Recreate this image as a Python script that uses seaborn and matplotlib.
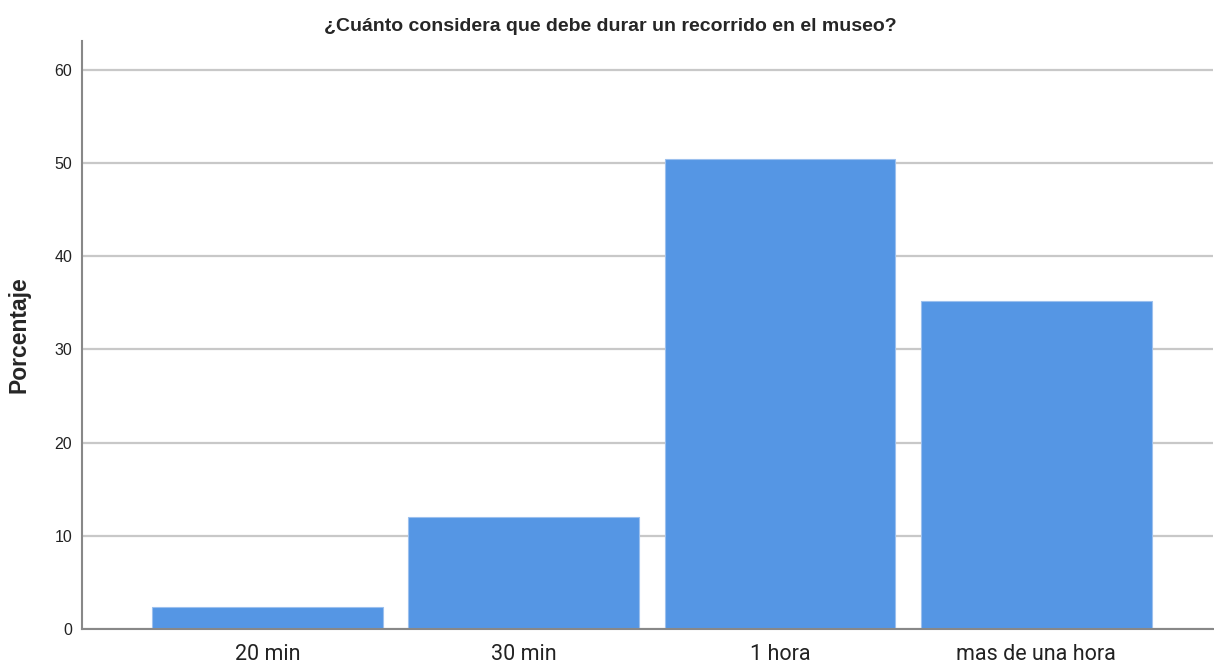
import pandas as pd
import numpy as np
import seaborn as sns
import matplotlib.pyplot as plt

# datos del grafico
categorias = ["20 min", "30 min", "1 hora", "mas de una hora"]
porcentajes = [2.4, 12.0, 50.4, 35.2]
yticks = [0, 10, 20, 30, 40, 50, 60]

df = pd.DataFrame({"categoria": categorias, "porcentaje": porcentajes})

sns.set_style("white")
plt.rcParams['font.family'] = ['Liberation Sans', 'DejaVu Sans']

fig = plt.figure(figsize=(12.14, 6.63), dpi=100)
ax = fig.add_axes([0.0675, 0.0513, 0.9318, 0.887])

ax.set_axisbelow(True)
ax.grid(axis="y", color="#c8c8c8", linewidth=1.6)
sns.barplot(data=df, x="categoria", y="porcentaje", color="#5596e4",
            saturation=1, width=0.9, edgecolor="#9cc0ee", linewidth=0.8, ax=ax)

ax.set_ylim(0, 63.1)
ax.set_xlim(-0.723, 3.69)
ax.set_yticks(yticks)
ax.set_yticklabels([str(t) for t in yticks], fontsize=11.5, color="#222222")
ax.set_xticks(range(len(categorias)))
ax.set_xticklabels(categorias, fontsize=15.5, family=["Roboto", "DejaVu Sans"], color="#222222")
ax.tick_params(axis="x", length=0, pad=11)
ax.tick_params(axis="y", length=0, pad=7)

ax.set_xlabel("")
ax.set_ylabel("Porcentaje", fontsize=16.5, fontweight="bold", labelpad=17)
ax.set_title("¿Cuánto considera que debe durar un recorrido en el museo?",
             fontsize=14, fontweight="bold", pad=7, x=0.467)

sns.despine(ax=ax)
for s in ["left", "bottom"]:
    ax.spines[s].set_color("#888888")
    ax.spines[s].set_linewidth(1.5)

plt.savefig("out.png", dpi=100)
